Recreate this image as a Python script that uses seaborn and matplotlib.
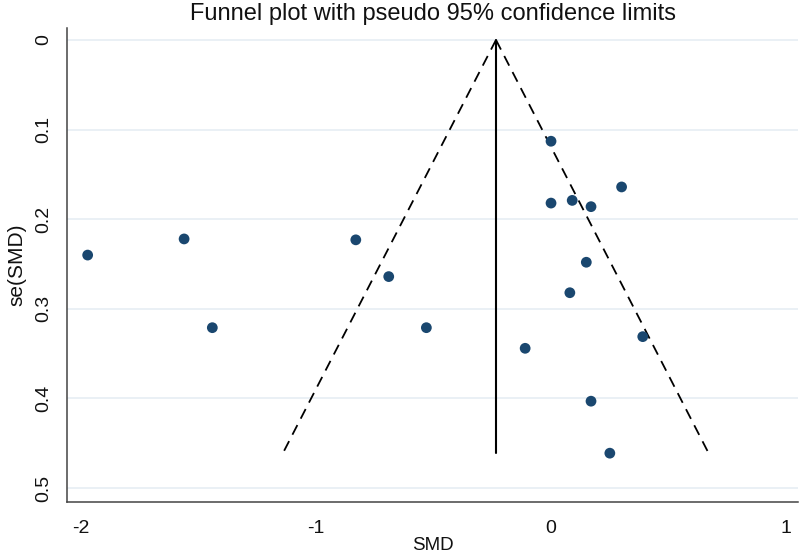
import numpy as np
import pandas as pd
import seaborn as sns
import matplotlib.pyplot as plt

# study effect sizes and standard errors
smd = [-1.97, -1.56, -1.44, -0.83, -0.69, -0.53, -0.11, 0.0, 0.0,
       0.09, 0.17, 0.30, 0.15, 0.08, 0.39, 0.17, 0.25]
se_smd = [0.240, 0.222, 0.321, 0.223, 0.264, 0.321, 0.344, 0.113, 0.182,
          0.179, 0.186, 0.164, 0.248, 0.282, 0.331, 0.403, 0.461]

pooled = [-0.234, -0.234]
funnel_se = [0.0, 0.461]
lower_limit = [-0.234, -1.14]
upper_limit = [-0.234, 0.67]

xticks = [-2, -1, 0, 1]
yticks = [0, 0.1, 0.2, 0.3, 0.4, 0.5]
ytick_labels = ['0', '0.1', '0.2', '0.3', '0.4', '0.5']

sns.set_style('white')
plt.rcParams['font.family'] = ['Liberation Sans', 'DejaVu Sans']
plt.rcParams['axes.unicode_minus'] = False

df = pd.DataFrame({'SMD': smd, 'se': se_smd})

fig = plt.figure(figsize=(8, 5.53), dpi=100)
ax = fig.add_axes([0.084, 0.092, 0.9135, 0.8575])

for y in yticks:
    ax.axhline(y, color='#e6edf3', lw=1.2, zorder=0)

ax.plot(lower_limit, funnel_se, color='black', ls=(0, (6, 4)), lw=1.3)
ax.plot(upper_limit, funnel_se, color='black', ls=(0, (6, 4)), lw=1.3)
ax.plot(pooled, funnel_se, color='black', lw=1.5)

sns.scatterplot(data=df, x='SMD', y='se', ax=ax, color='#1a476f',
                s=60, edgecolor='none', zorder=3)

ax.set_xlim(-2.057, 1.05)
ax.set_ylim(0.5156, -0.0134)
ax.set_xticks(xticks)
ax.set_yticks(yticks)
ax.set_yticklabels(ytick_labels, rotation=90, va='center')
ax.tick_params(axis='both', direction='out', length=5, width=1,
               color='#333333', labelsize=14, labelcolor='#111111')
ax.tick_params(axis='x', pad=8)
ax.tick_params(axis='y', pad=6)

for side in ['top', 'right']:
    ax.spines[side].set_visible(False)
for side in ['left', 'bottom']:
    ax.spines[side].set_color('#444444')
    ax.spines[side].set_linewidth(1.1)

ax.set_xlabel('SMD', fontsize=13.5, labelpad=0, color='#111111')
ax.set_ylabel('se(SMD)', fontsize=15, labelpad=6, color='#111111')
ax.set_title('Funnel plot with pseudo 95% confidence limits', fontsize=17,
             pad=6, color='#111111')

plt.savefig('out.png', dpi=100)
